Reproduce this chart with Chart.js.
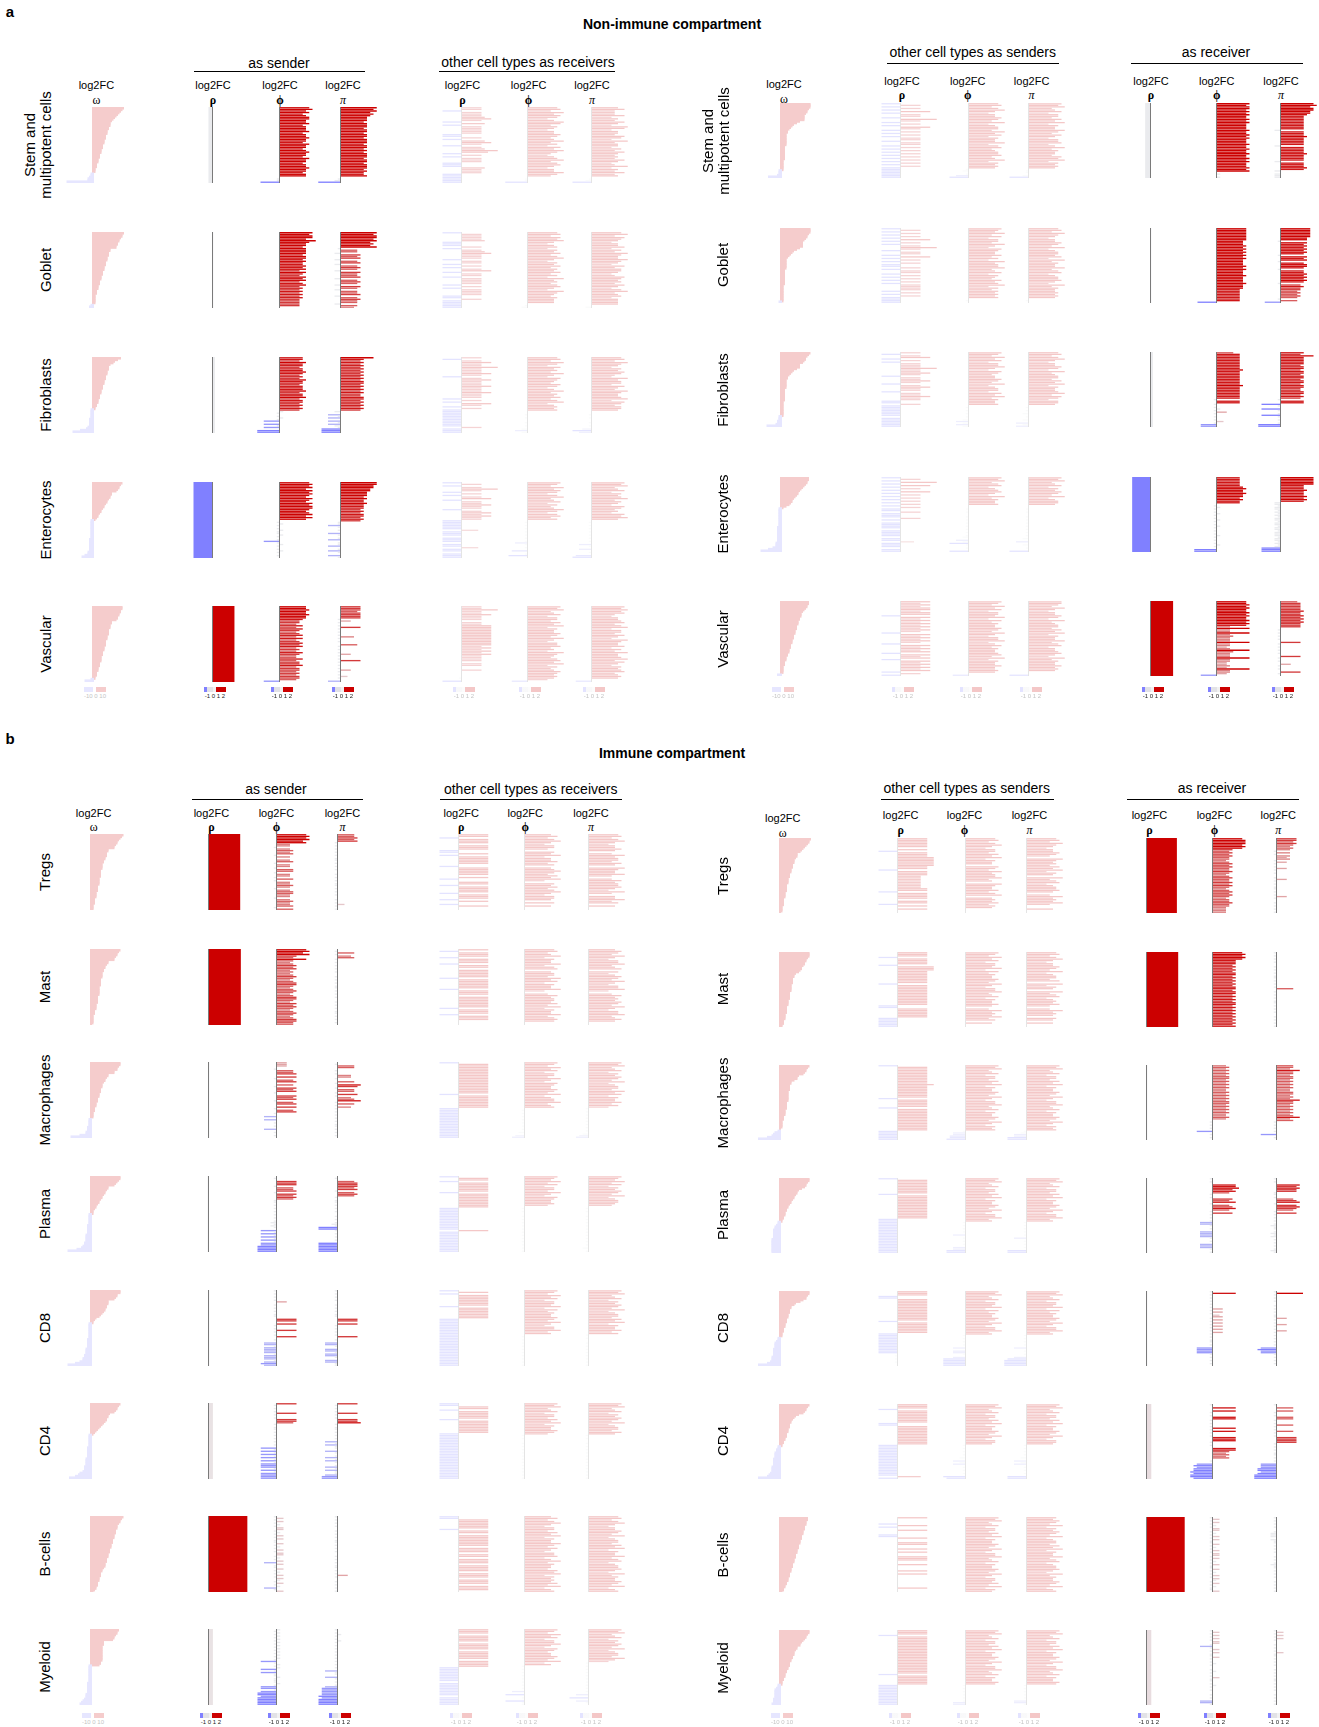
<!DOCTYPE html>
<html>
<head>
<meta charset="utf-8">
<title>Non-immune and immune compartment log2FC</title>
<script src="https://cdn.jsdelivr.net/npm/chart.js@4.4.1/dist/chart.umd.min.js"></script>
<style>
  html, body { margin:0; padding:0; background:#fff; }
  body { position:relative; width:1319px; height:1727px; overflow:hidden;
         font-family:"Liberation Sans", Arial, Helvetica, sans-serif; color:#000; }
  .txt { position:absolute; white-space:pre; transform:translate(-50%,-50%); line-height:1.05; text-align:center; }
  .rule { position:absolute; height:1px; background:#000; }
  canvas { position:absolute; }
  .cbar { position:absolute; height:5px; }
  .cblab { position:absolute; font-size:6px; transform:translateX(-50%); white-space:nowrap; line-height:1; }
</style>
</head>
<body>
<script>
// ---------------------------------------------------------------------------
// Per-pair log2 fold changes. Each string holds one value per ligand-receptor
// pair, top to bottom. Codes: '0'..'9','A'..'Z' = 0,1,2.. steps; 'a'..'z' =
// -1,-2,.. steps. omega strings use 0.5 per step, rho/phi/pi strings 0.25.
// ---------------------------------------------------------------------------
const nonImmuneRows = ['Stem and\nmultipotent cells', 'Goblet', 'Fibroblasts', 'Enterocytes', 'Vascular'];
const immuneRows = ['Tregs', 'Mast', 'Macrophages', 'Plasma', 'CD8', 'CD4', 'B-cells', 'Myeloid'];

// Non-immune, cell type as sender (left block)
const niSendOmega = [
  'KJIHGFEDCB BBAA999888 7776665554 4433322211 10aabccq',
  'KJJIHHGGFF BBAAA99988 8777666555 4443332221 111110ab',
  'IGEDBAAA99 9888777666 5554443332 211aaaaaab bbbbcdhm',
  'JIHHGFCCBB A998776554 3321aaaaaa aaaaaabbbb bbbbcceg',
  'JJIIHHGGFC CBBBAAAA99 9888877766 6555544433 322211ae'
];
const niSendRho = [-0.35, 0.02, 0.15, -1.5, 1.65];
const niSendPhi = [
  '9A897899 88978889 78898879 88789887 98878898 8788 0aaf',
  'A9AA8B98 87888878 87877878 68768786 78676767 6766 6660',
  '77687767 78767687 76777867 78677676 761a0a1a e0eae0gg',
  '9A9A8A9A 98A98A9A A989A8A8 0a1a0a1a a1a0aea1 a0a1a0a0',
  '88988988 76657576 56757567 67565765 57566756 6565665e'
];
const niSendPi = [
  'BAB9A988 87888788 78878887 88787888 78878887 8778 0abg',
  'BABBAB9A 9Ba55b65 6b56b565 b6556b56 5b65b556 b565 5b54',
  'A7676767 67676767 76767676 67767676 76b0dad0 dadbafff',
  'BBAA9988 87877877 76767767 6aada0a0 da0ad0aa d0ada0da',
  '66656666 a3a0a6a0 a0a4a0a0 5a0a0a3a 0a6a0a0a 3a0a2a0d'
];
const niOtherRecvRho = [
  '66f66679 6f7f6666 6ff6f796 f67B8f6f 666fff76 66ffffff',
  'f66667ff f6f67966 6f66f6f6 9f66f666 6f6f6666 ff6fffff',
  '6f6966B6 6696f696 66966696 66f6f96f 6fffffff ffff6fff',
  'f6f6B6f6 f69f6696 6f696966 ffffff5f ff0fff0f f5ff0fff',
  '66B66966 60669999 99999999 96969696 66606600 60000a0f'
];
const niOtherRecvPhi = [
  '9A7B8A96 8BA79868 8A978B79 6A8B9768 9B79A868 8B97 0aag',
  '9A7A9B86 89698A79 B8698A79 8A796B89 79A86B98 7988 80ab',
  '9A7B96A8 97B86A98 7A968B79 8A79B689 8900a0a0 0a0a0bdb',
  'A97B8A96 9B78A697 8B969A79 0a0a0a0a 0a0a0ada 0a0e0af0',
  'A9B78A69 97A8B698 8A97B869 9A786B98 79A8B697 8A98986e'
];
const niOtherRecvPi = [
  '8A777A68 7A86BA68 87A96B78 8697A878 7A867B68 7A78 0abf',
  '9B7A9868 8A697B98 8B986A79 9867A989 7A869B78 9688 880b',
  '9A7B9869 8A976B89 96A87B98 89B6A979 9800a0a0 0a0a0cfd',
  'A9B78A69 89B7986A 9786A9B8 0a0a0a0a 0a0a0a0d a0d0a0ef',
  'A9B9A768 89A79B69 97A86B98 8A697B88 9B7A8698 9A78980e'
];

// Non-immune, cell type as receiver (right block)
const niRecvOmega = [
  'JJJIHHGFFF FCA8765443 3333333222 2222221111 111aaabh',
  'JJJIHHGFEE EECA876543 3333332222 2222221111 1111111a',
  'JIHGGFECCC A876544333 3332222222 2111111111 1aaabbci',
  'IIHHGFEDCB BA98776531 aaaaaaaaaa aabbbbbbbb bbcccehm',
  'IIHHGFEDDD CCBBBAAA99 9888777666 5554433322 2111110b'
];
const niOtherSendRho = [
  'f6f6f9f6 6fB6f6f9 6f6f6f66 f66f6f6f 6f6f6f6f 6fffffff',
  'f6f6f6f9 f6f6B6f6 6f9f6f6f f6f66f6f 6f6f6666 f6f6ffff',
  '6f69f6f6 66B6696f 6696f696 6f66966f f6ffffff f0ffffff',
  'f6fBf9f6 f9f6f6f6 f6f6ff6f ff6f0fff f0ffff0f f4fff0ff',
  '96969969 9f969696 9696f969 696f9696 9f969f96 96969f6f'
];
const niOtherSendPhi = [
  '9A79B868 8A97B689 97B8A698 8B69A789 9A78B698 98ab0adf',
  'A98B7A69 97B86A98 8A796B89 9B78A698 7A89B697 989890a0',
  'A97B8A69 9B86A978 8A97B689 96A8B798 890a0a0a 0a0bdbdb',
  'A9B79A68 9A86B798 8900a0a0 0a0a0a0a 0a0a0ab0 dbfa0a0f',
  'A97B8A69 98B6A798 8A97B869 9B68A798 89A7B698 8A88980e'
];
const niOtherSendPi = [
  'A9B78A69 97A8B698 8B97A869 9A68B798 87A9B698 980aa0bf',
  '9A7B9868 8A97B689 98A6B798 8B79A689 9A86B798 898980a0',
  '9A79B868 8A96B789 97A8B698 89B7A969 980a0a0b 0a0b0dbd',
  'A9B78A69 8A97B689 9800a0a0 0a0a0a0a 0a0a0a0b 0d0b0a0f',
  'AA97B868 8A96B789 97A8B698 8B79A688 9A86B798 8A89800f'
];
const niRecvRho = [-0.45, 0.02, 0.15, -1.45, 1.7];
const niRecvPhi = [
  'A9AA9A9A 99A9A999 9A99A9A9 99A99A99 A99A9A99 9A9A0101',
  '99999999 88898989 89898888 98988898 88898887 7777777f',
  '57777777 77787777 77777877 777777a7 7a0a1a3a 0a0a2aee',
  '77777789 88988787 70a1a0a1 a0a1a0a1 a0a0a1a0 a0a1a0gg',
  '99A9A99A 9A99A9A9 4A44A454 44A4434A 5444A443 343A443e'
];
const niRecvPi = [
  'AB9AA998 77777777 7b777877 777b7777 87777b77 787b0bbb',
  '99999988 a8787878 7a878a78 87a77878 787a6766 56565a5e',
  '76A77777 67767767 76776776 677676a7 7fa0fa0a fa0a0agg',
  'AAAAA777 87778787 bbabbaba babbabba bbabbbab bababfff',
  '56666676 67676766 60a0a0a0 a06a0a0a 0a06a0a0 3a0a06a0'
];

// Immune, cell type as sender (left block)
const imSendOmega = [
  'LKJIHHGFFB BAAA998877 7766666555 5544443333 22221111',
  'JIHHGFFBBA 9988777766 6665555554 4444333322 21111110',
  'JJIHHFFBBA 9987776665 5544433322 211110aaaa abbbccgm',
  'JJIHGFBBA9 9877655433 2111aaaaaa abbbbbbccc ccddefio',
  'JJHHGFBBBA A998765321 1aaaaaaaaa abbbbbbccc cddeegjo',
  'JIHHGFCBBA A987654321 aaaaaaaabb bbbbbccccc dddeghjn',
  'LKJJIHHHGG GFFFEEEDDD CCCBBBAAA9 9987766655 54443321',
  'IHHGFFE888 7777777777 665aaaaaaa aaaabbbbbb bcccdefg'
];
const imSendRho = [2.4, 2.45, 0.02, -0.1, 0.02, 0.3, 2.95, 0.3];
const imSendPhi = [
  '9A9A8944 a4545a40 45a44a55 a44a5a44 54a45544 a45445a5',
  '9A8A6595 45656454 56545665 45654566 54656545 65456655',
  '3330a556 06a5605a 656a0656 a5606a56 a0d0d0a0 a0d0a0a0',
  '0a0666a5 56a6565a a0a0a0a0 a0a0abab a0eaeaea eaeeffff',
  'a0a0a0a3 0a0a0a0a a06606a0 a6a0a60a 0ddadddd adddaded',
  '6a0a0a6a 0a665a0a a0a0a0a0 a0a0eaea eaeaeaee eaeaeeee',
  'a2a2a1a2 2a1a2a2a a2a1a2a2 2a1a2d2a a2a1a2a2 1a2a1da2',
  '1a1a1a1a 1a1a1a1a 1a1aea1a 1eaeaa1a aa1aeeae ffefffff'
];
const imSendPi = [
  '55656a0a 0a0a0a0a a0a0a0a0 0a0a0a0a a0a0a0a0 0a0a2a0a',
  '0a5a45a0 a0a0a0a0 0a0a0a0a a0a0a0a0 0a0a0a0a a0a0a0a0',
  '0a550a0a 44a05a76 a55a6a45 7a5a4a0a 0a0a0a0a a0a0a0a0',
  '0a056665 6a565a0a a0a0a0a0 0a0a0aba ffa0a0a0 a0ffffff',
  'a0a0a0a0 0a0a0a0a a06606a0 a0a0a60a 0dda0dda dda0ddaa',
  '6a0a0a6a 0a667a0a a0a0a0a0 dadaa0da 0adada0a dadaadee',
  'a0a0a0a0 0a0a0a0a a0a0a0a0 0a0a0a0a a0a0a3a0 0a0a0a0a',
  'a0a1a0a1 a0a0a0a0 a0a0a0a0 a0daa0da 0a0adeee eefeffff'
];
const imOtherRecvRho = [
  '99f99909 99ff9f99 9990f999 9909f099 f9999f99 9f90f900',
  '9f999f99 9f990999 99f99999 9f999099 99999f99 9f999000',
  'f9999999 99999999 9999f999 99999fff ffffffff ffffffff',
  'f99f9999 99f99999 9999ffff ffffffff ff9fffff ffffffff',
  'f9f99999 99f99999 99ffffff ffffffff ffffffff ffffffff',
  'ff99f999 99f99999 999fffff ffffffff ffffffff ffffffff',
  'ff999999 f9909999 99909990 99099909 99909990 99909990',
  '99909999 09999099 99909999 ffffffff f0ffffff ff0fffff'
];
const imOtherRecvPhi = [
  '8A79B869 97098B68 8A79089B 97A8B609 8A79B869 98090800',
  '9A78B698 8B69A089 97B8A698 8B607A89 98A7B698 8B79A900',
  'A97B8A69 97B86A98 8A97B689 9B7890a0 a0a0a0a0 a0a0b0cd',
  'A98B7A69 97B86A98 8970a0a0 0a0a0a0a 0a0a0a0a 0a0a0a0a',
  'A97B8A69 98B6A798 8A97B869 9B780a0a 0a0a0a0a 0a0a0a0a',
  'A9B78A69 97A8B698 8A97a0a0 0a0a0a0a 0a0a0a0a 0a0a0a0a',
  '8A79B869 97A8B698 8B97A869 9A68B798 87A9B698 98A7B689',
  'A97B8A69 9B86A978 8A97B68a 0a0a0a0a 0a0a0a0d 0f0a0faa'
];
const imOtherRecvPi = [
  '9A79B868 8A807B89 97A80B98 8B707A89 9A86B708 8B790800',
  '8A97B869 9B78A096 8A97B869 9B607A89 8A97B869 9B78A800',
  'A9B78A69 8A97B689 97B8A698 8A796a0a 0a0a0a0a 0a0a0bcd',
  'A98B7A69 8A97B689 9870a0a0 0a0a0a0a 0a0a0a0a 0a0a0b0a',
  'A9B78A69 8A97B689 97A8B698 8A79a0a0 0a0a0a0a 0a0a0a0a',
  'A9B78A69 8A97B689 97A8a0a0 0a0a0a0a 0a0a0a0a 0a0a0a0a',
  '9A79B868 8A97B689 97A8B698 8B79A689 9A86B798 8A97B689',
  'A9B78A69 8A97B689 97B86a0a 0a0a0a0a 0a0a0a0a 0d0f0da0'
];

// Immune, cell type as receiver (right block)
const imRecvOmega = [
  'KJJIHGFEDB BBA9998887 7766655554 4444333322 22211110',
  'JJJIHHGGFE EDCA998888 7777766666 5555444443 33322211',
  'JIHHGFCBB9 7766665555 5554444433 3322211111 00acdehn',
  'JJIHHGECBB A998776554 43332211aa bccdddddde eeeeeeee',
  'JJIHHFDA97 7666555444 3332221110 aabccccddd ddeeefhn',
  'JIHHGFCA98 7766655544 4332211aab bccccddddd eeeefghn',
  'IIHHHGGGFF FEEEDDDCCC BBBAAA9998 8877766655 54433221',
  'JJIHHGFEDD BBA9998877 6665544333 22111aabcc ccccddde'
];
const imOtherSendRho = [
  '99999909 f999BBBB BB99f999 77777777 99f99990 99f90900',
  '999f9999 fBBB9999 9999f999 99999999 99ff9999 99ffffff',
  'f9999999 9999B999 99999f99 999f9999 99999999 99ffffff',
  'f9999999 99f99999 99999999 99ffffff ffffffff ffffffff',
  '999ff999 99999999 999f9999 999fffff ffffffff 0a0a0a00',
  '999f9999 9999ff99 99999999 99ffffff ffffffff ffffff7f',
  '9000f9f0 900ff900 99009090 09990090 00909000 00000900',
  '999f9999 99999999 99999999 9999f999 999fffff ffffffff'
];
const imOtherSendPhi = [
  '9A79B869 97A8B698 80A97B89 9B780B98 8A79B089 8A798000',
  'A97B8A69 98B6A798 8A97B869 9B78A698 8A807B89 8B790800',
  'A9B78A69 97A8B698 8A97B869 9B78A698 8A97B869 89addeef',
  'A9B78A69 97A8B698 8A97B869 9B78a0a0 a0a0d0a0 a0a0ddff',
  'A9B78A69 98B6A798 8A97B869 9B78a0a0 a0a0d0dd a0dggggg',
  'A9B78A69 97A8B698 8A97B869 98a0a0a0 a0b0dbd0 a0a0a0gf',
  'A9B78A69 97A8B698 8A97B869 9B78A698 8A97B869 98A7B698',
  'A9B78A69 97A8B698 8A97B869 9B78A698 8A9a0a0a 0a0a0add'
];
const imOtherSendPi = [
  '9A7B9868 8A970B98 97A8B698 0B79A689 9A807B89 8B700800',
  '9A79B868 8A97B689 97A0B698 0B79A689 8A707B89 80980800',
  'A9B78A69 97A8B698 8A97B869 9B78A698 8A97B869 89abddff',
  'A9B78A69 97A8B698 8A97B869 9B78a0a0 a0a0a0d0 a0a0a0ff',
  'A9B78A69 98B6A798 8A97B869 9B78a0a0 a0a0d0a0 a0dfgggg',
  'A9B78A69 97A8B698 8A97B869 98a0a0a0 a0b0dbd0 a0a0a0ff',
  '98A97B69 8A97B689 97A8B698 8B79A689 9A86B798 8A97B689',
  'A9B78A69 97A8B698 8A97B869 9B78A698 8A9a0a0a 0a0a0dda'
];
const imRecvRho = [2.3, 2.4, 0.02, 0.02, 0.02, 0.33, 2.9, 0.33];
const imRecvPhi = [
  '9AAA9A96 56565545 65655654 56556565 45656545 56554444',
  '9A9A9777 67676776 76767677 67767676 77676767 67676767',
  '45454545 54545454 45454545 54545454 4540a0a0 a0e0a0a0',
  'a0a07786 75a0a657 a5675a6a 0a0adda0 a0dddda0 a0ddda0a',
  'a7a0a0a0 a0a3a3a2 3a3a3a3a 3a3a0a0a a0a0eeee a0a0a0a0',
  'a0707a0a 77a0a0a7 a7a0a777 a0a07754 5450a0ef effgfggf',
  'a2a2a1a2 2a1a2a2a a2a1a2a2 2a2a1a2a a2a1a2a2 1a2a1aa2',
  'a2a2a2a2 2ada2a2a a2a0a1a0 0a1a0a2a a0a1a0a0 0a0a0dda'
];
const imRecvPi = [
  '66565454 a4a434a3 a0a3a0a0 0a3a0a0a a0a0a3a0 0a0a0a0a',
  'a0a0a0a0 0a0a0a0a a0a0a0a5 0a0a0a0a a0a0a0a0 0a0a0a0a',
  '55475545 54545454 45545475 54545454 5745a0a0 a0a0e0a0',
  'a0a07676 6aa0a567 a6765a6a 0a0a0aba a0abab0a 0a0a0aba',
  'a8a0a0a0 0a0a0a0a a3a0a3a0 a3a0a0a0 a0a0efee a0a0a0a0',
  'a0505a0a 55a0a5a0 a5a0a666 6a0a0a0a a0a0a0ee effefggg',
  'a0a0a0a0 0abbb0ba a0a0a0a0 0a0a0aba a0a0a0a0 0a0a0a0a',
  'a2a2a2a0 0a0a0a2a a0a0a0a0 0a0a0a0a a0a0a0a0 0a0a0a0a'
];

// ---------------------------------------------------------------------------
const POS_CODES = '0123456789ABCDEFGHIJKLMNOPQRSTUVWXYZ';
const NEG_CODES = 'abcdefghijklmnopqrstuvwxyz';
function decode(str, step) {
  return Array.from(str.replace(/\s+/g, ''), ch => {
    const p = POS_CODES.indexOf(ch);
    return p >= 0 ? p * step : -(NEG_CODES.indexOf(ch) + 1) * step;
  });
}

// colour scale: blue (-1.5) .. light grey (0) .. red; faded panels are the
// same scale washed onto white so the marks stay opaque
const GREY = [234, 235, 238], RED = [204, 0, 0], BLUE = [128, 128, 255];
const clamp01 = t => Math.max(0, Math.min(1, t));
function wash(c, strength) { return c.map(v => Math.round(255 + (v - 255) * strength)); }
function rgb(c) { return `rgb(${c[0]},${c[1]},${c[2]})`; }
function fcColour(v, strength, redTop = 1.9) {
  const t = v >= 0 ? clamp01((v - 0.25) / (redTop - 0.25)) : clamp01((-v - 0.5) / 0.95);
  const target = v >= 0 ? RED : BLUE;
  const c = GREY.map((g, i) => g + (target[i] - g) * t);
  return rgb(wash(c, strength));
}
const OMEGA_POS = rgb(wash(RED, 0.2)), OMEGA_NEG = rgb(wash(BLUE, 0.2));
const omegaColour = v => v >= 0 ? OMEGA_POS : OMEGA_NEG;

const SCALES = {
  omega: { min: -9, max: 11, ppu: 3 },
  fc: { min: -2, max: 3, ppu: 13 }
};

// vertical zero line, drawn through the x scale
const zeroLine = {
  id: 'zeroLine',
  afterDatasetsDraw(chart, args, opts) {
    if (!opts || !opts.color) return;
    const x = Math.round(chart.scales.x.getPixelForValue(0)) - 0.5;
    const { top, bottom } = chart.chartArea;
    const ctx = chart.ctx;
    ctx.save();
    ctx.strokeStyle = opts.color;
    ctx.lineWidth = 1;
    ctx.beginPath();
    ctx.moveTo(x, top);
    ctx.lineTo(x, bottom);
    ctx.stroke();
    ctx.restore();
  }
};

function drawPanel(zeroX, top, h, values, scale, colours, line, barPct, inflate) {
  const w = Math.round((scale.max - scale.min) * scale.ppu);
  const cv = document.createElement('canvas');
  cv.width = w; cv.height = h;
  cv.style.width = w + 'px'; cv.style.height = h + 'px';
  cv.style.left = Math.round(zeroX + scale.min * scale.ppu) + 'px';
  cv.style.top = Math.round(top) + 'px';
  document.body.appendChild(cv);
  new Chart(cv, {
    type: 'bar',
    data: {
      labels: values.map((_, i) => i),
      datasets: [{ data: values, backgroundColor: colours, borderWidth: 0,
                   barPercentage: barPct, categoryPercentage: 1,
                   inflateAmount: inflate }]
    },
    options: {
      indexAxis: 'y', responsive: false, animation: false, events: [], devicePixelRatio: 1,
      layout: { padding: 0 },
      plugins: { legend: { display: false }, tooltip: { enabled: false }, zeroLine: { color: line } },
      scales: {
        x: { type: 'linear', display: false, min: scale.min, max: scale.max },
        y: { display: false }
      }
    },
    plugins: [zeroLine]
  });
}

function addText(str, x, y, style) {
  const d = document.createElement('div');
  d.className = 'txt';
  d.textContent = str;
  d.style.left = x + 'px';
  d.style.top = y + 'px';
  Object.assign(d.style, style || {});
  document.body.appendChild(d);
  return d;
}
function addRule(x1, x2, y) {
  const d = document.createElement('div');
  d.className = 'rule';
  d.style.left = x1 + 'px'; d.style.top = y + 'px'; d.style.width = (x2 - x1) + 'px';
  document.body.appendChild(d);
}
function addColourBar(zeroX, y, kind) {
  const d = document.createElement('div');
  d.className = 'cbar';
  d.style.left = Math.round(zeroX - 9) + 'px';
  d.style.top = y + 'px';
  d.style.width = '22px';
  let labels = '-1 0 1 2', labColour = '#222';
  if (kind === 'omega') {
    d.style.background = `linear-gradient(to right, ${OMEGA_NEG} 0 40%, transparent 40% 56%, ${OMEGA_POS} 56% 100%)`;
    labels = '-10  0  10'; labColour = '#c4c4c4';
  } else {
    d.style.background = 'linear-gradient(to right, #8080ff 0 14%, #e2e2e6 14% 40%, #f1f1f1 40% 56%, #cc0000 56% 100%)';
    if (kind === 'faded') { d.style.opacity = '0.22'; labColour = '#c4c4c4'; }
  }
  document.body.appendChild(d);
  const l = document.createElement('div');
  l.className = 'cblab';
  l.textContent = labels;
  l.style.left = Math.round(zeroX + 2) + 'px';
  l.style.top = (y + 6) + 'px';
  l.style.color = labColour;
  document.body.appendChild(l);
}

// ---------------------------------------------------------------------------
// layout of the four blocks
const SYMBOLS = ['ω', 'ρ', 'ϕ', 'π', 'ρ', 'ϕ', 'π'];
const blocks = [
  { rows: nonImmuneRows, tops: [106.5, 231.5, 357, 481.5, 606], h: 76,
    zero: [93, 212.5, 280, 340.5, 462, 527.5, 591.5],
    series: [niSendOmega, niSendRho, niSendPhi, niSendPi, niOtherRecvRho, niOtherRecvPhi, niOtherRecvPi],
    bold: [false, true, true, true, false, false, false],
    labelX: 46, labelX2: 38, barY: 687,
    headX: [96.4, 213, 280, 343, 462.5, 528.6, 592], headY: 86, symY: 99.5, omegaDy: 0,
    groups: [['as sender', 279, 63, 194, 364.5, 71], ['other cell types as receivers', 528, 62, 439, 614.5, 71]] },
  { rows: nonImmuneRows, tops: [103.4, 227.8, 352, 476.5, 601], h: 75,
    zero: [781, 900.5, 969, 1029, 1151, 1217, 1280.5],
    series: [niRecvOmega, niOtherSendRho, niOtherSendPhi, niOtherSendPi, niRecvRho, niRecvPhi, niRecvPi],
    bold: [false, false, false, false, true, true, true],
    labelX: 723, labelX2: 716, barY: 687,
    headX: [784, 902, 967.7, 1031.6, 1151, 1216.8, 1281], headY: 81.7, symY: 95, omegaDy: 3.5,
    groups: [['other cell types as senders', 972.7, 52, 887, 1058.6, 63], ['as receiver', 1216, 52, 1130.5, 1302.7, 63]] },
  { rows: immuneRows, tops: [834.4, 948.6, 1062, 1176, 1289.6, 1403.2, 1516.3, 1629.4], h: 76,
    zero: [91, 209.3, 277.3, 337.7, 459, 525, 589],
    series: [imSendOmega, imSendRho, imSendPhi, imSendPi, imOtherRecvRho, imOtherRecvPhi, imOtherRecvPi],
    bold: [false, true, true, true, false, false, false],
    labelX: 45, labelX2: 38, barY: 1713,
    headX: [93.6, 211.4, 276.4, 342.4, 461.3, 525.2, 591], headY: 813.7, symY: 827, omegaDy: 0,
    groups: [['as sender', 276, 789.4, 191.6, 363.3, 799], ['other cell types as receivers', 530.7, 788.5, 440, 622, 799]] },
  { rows: immuneRows, tops: [838.4, 951.5, 1065, 1177.6, 1290.7, 1403.8, 1517, 1630], h: 75,
    zero: [780, 898, 966, 1027, 1147.3, 1213.3, 1277],
    series: [imRecvOmega, imOtherSendRho, imOtherSendPhi, imOtherSendPi, imRecvRho, imRecvPhi, imRecvPi],
    bold: [false, false, false, false, true, true, true],
    labelX: 723, labelX2: 716, barY: 1713,
    headX: [782.8, 900.6, 964.5, 1029.4, 1149.4, 1214.4, 1278.3], headY: 816, symY: 830, omegaDy: 3,
    groups: [['other cell types as senders', 966.7, 788, 881, 1053.6, 799], ['as receiver', 1212, 788, 1127.4, 1299.2, 799]] }
];

// titles
addText('a', 10, 12, { fontWeight: 'bold', fontSize: '15px' });
addText('Non-immune compartment', 672, 24, { fontWeight: 'bold', fontSize: '14px' });
addText('b', 10, 739, { fontWeight: 'bold', fontSize: '15px' });
addText('Immune compartment', 672, 753, { fontWeight: 'bold', fontSize: '14px' });

for (const b of blocks) {
  // group headings
  for (const [label, x, y, x1, x2, ly] of b.groups) {
    addText(label, x, y, { fontSize: '14px' });
    addRule(x1, x2, ly);
  }
  // column headings
  b.headX.forEach((x, c) => {
    const dy = c === 0 ? b.omegaDy : 0;
    addText('log2FC', x, b.headY + dy, { fontSize: '11px' });
    const sym = SYMBOLS[c];
    addText(sym, x, b.symY + dy, {
      fontSize: '12px', fontFamily: '"Liberation Serif","DejaVu Serif",serif',
      fontWeight: (sym === 'ρ' || sym === 'ϕ') ? 'bold' : 'normal',
      fontStyle: sym === 'π' ? 'italic' : 'normal'
    });
  });
  // panels
  b.rows.forEach((name, r) => {
    const top = b.tops[r];
    const twoLines = name.indexOf('\n') >= 0;
    addText(name, twoLines ? b.labelX2 : b.labelX, top + b.h / 2,
            { fontSize: '15px', transform: 'translate(-50%,-50%) rotate(-90deg)' });
    b.series.forEach((arr, c) => {
      const zx = b.zero[c];
      if (c === 0) {
        const vals = decode(arr[r], 0.5);
        drawPanel(zx, top, b.h, vals, SCALES.omega, vals.map(omegaColour), null, 1.0, 1);
      } else if (typeof arr[r] === 'number') {
        const v = arr[r];
        drawPanel(zx, top, b.h, [v], SCALES.fc, [fcColour(v, 1, 1.5)], '#7a7a7a', 1.0, 0);
      } else {
        const vals = decode(arr[r], 0.25);
        const bold = b.bold[c];
        drawPanel(zx, top, b.h, vals, SCALES.fc,
                  vals.map(v => fcColour(v, bold ? 1 : 0.22)),
                  bold ? '#7a7a7a' : '#e4e4e4', bold ? 0.85 : 0.8, 'auto');
      }
    });
  });
  // colour keys
  b.zero.forEach((zx, c) => addColourBar(zx, b.barY, c === 0 ? 'omega' : (b.bold[c] ? 'bold' : 'faded')));
}
</script>
</body>
</html>
